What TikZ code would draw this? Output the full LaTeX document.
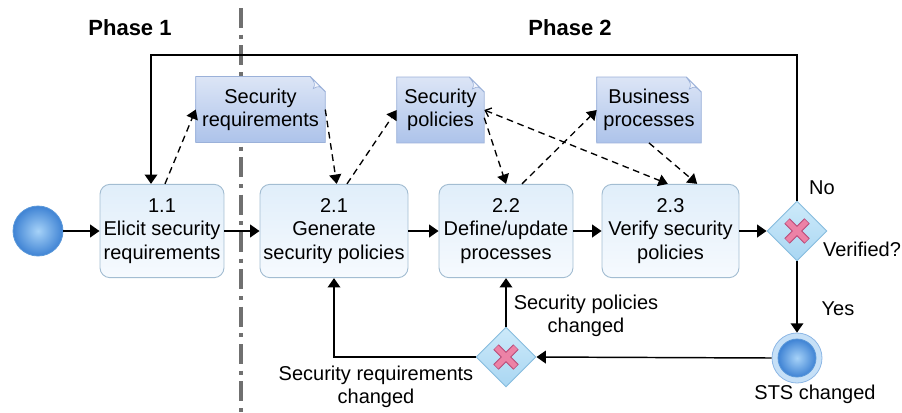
\documentclass[tikz,border=0pt]{standalone}
\usepackage{fontspec}
\setmainfont{Liberation Sans}
\usepackage{tikz}
\usetikzlibrary{arrows.meta,shapes.geometric,calc,backgrounds}

\definecolor{tasktop}{HTML}{E0EEFA}
\definecolor{taskbot}{HTML}{F6FAFE}
\definecolor{taskline}{HTML}{A3BDD2}
\definecolor{evin}{HTML}{A6D2F8}
\definecolor{evout}{HTML}{3F83D4}
\definecolor{evline}{HTML}{5B98D9}
\definecolor{ringfill}{HTML}{C6E0F7}
\definecolor{ringline}{HTML}{8DB7E5}
\definecolor{datatop}{HTML}{DCE5F6}
\definecolor{databot}{HTML}{ADC3EA}
\definecolor{dataline}{HTML}{9BB1D9}
\definecolor{datafold}{HTML}{F2F5FC}
\definecolor{gwtop}{HTML}{CDEAFA}
\definecolor{gwbot}{HTML}{A9D6F2}
\definecolor{gwline}{HTML}{86BCDD}
\definecolor{xpink}{HTML}{EC82A6}
\definecolor{xline}{HTML}{B84A78}
\definecolor{phasegray}{HTML}{707070}

\begin{document}
\begin{tikzpicture}[x=0.75pt,y=0.75pt,yscale=-1,xscale=1,
  every node/.style={font=\fontsize{15}{17.5}\selectfont,align=center},
  task/.style={draw=taskline,line width=0.7pt,rounded corners=7.5pt,top color=tasktop,bottom color=taskbot,minimum height=70pt,inner sep=0pt},
  dataobj/.style={minimum height=49pt,inner sep=0pt},
  gateway/.style={diamond,draw=gwline,line width=0.7pt,top color=gwtop,bottom color=gwbot,minimum width=45pt,minimum height=45pt,inner sep=0pt},
  event/.style={circle,draw=evline,line width=0.6pt,inner color=evin,outer color=evout,inner sep=0pt},
  flow/.style={line width=1.1pt,-{Triangle[length=7pt,width=9.5pt]}},
  assoc/.style={line width=1pt,dash pattern=on 5pt off 3.5pt,-{Triangle[length=7pt,width=9pt]}},
  phase/.style={font=\fontsize{16.5}{19}\selectfont\bfseries}
]
\useasboundingbox (0,0) rectangle (902,412);

% Events
\node [event,minimum size=37.5pt] (start) at (38,231) {};
\node [circle,draw=ringline,line width=0.6pt,fill=ringfill,minimum size=37.5pt,inner sep=0pt] (endev) at (797,358) {};
\node [event,minimum size=28.5pt] (endin) at (797,358) {};

% Tasks
\node [task,minimum width=93pt] (box11) at (162,231) {1.1\\Elicit security\\requirements};
\node [task,minimum width=111pt] (box21) at (334,231) {2.1\\Generate\\security policies};
\node [task,minimum width=100.5pt] (box22) at (506,231) {2.2\\Define/update\\processes};
\node [task,minimum width=102.75pt] (box23) at (670.5,231) {2.3\\Verify security\\policies};

% Data objects
\node [dataobj,minimum width=96.75pt] (secreq) at (260.5,109.5) {Security\\requirements};
\node [dataobj,minimum width=65.25pt] (secpol) at (440.5,110) {Security\\policies};
\node [dataobj,minimum width=78pt] (busproc) at (649,110) {Business\\processes};

% Gateways
\node [gateway] (gw1) at (797,231) {};
\node [gateway] (gw2) at (506,357) {};
\foreach \g in {gw1,gw2}{
  \draw [xline,line width=5.6pt] ($(\g)+(-10,-10)$) -- ($(\g)+(10,10)$) ($(\g)+(-10,10)$) -- ($(\g)+(10,-10)$);
  \draw [xpink,line width=4.2pt] ($(\g)+(-9.6,-9.6)$) -- ($(\g)+(9.6,9.6)$) ($(\g)+(-9.6,9.6)$) -- ($(\g)+(9.6,-9.6)$);
}

\begin{scope}[on background layer]
%Phase divider
\draw [phasegray,line width=2.3pt,dash pattern=on 15pt off 5pt on 3pt off 5pt] (241,8) -- (241,412);
%Data object shapes
\foreach \n in {secreq,secpol,busproc}{
  \draw [dataline,line width=0.6pt,top color=datatop,bottom color=databot] (\n.south west) -- (\n.north west) -- ($(\n.north east)+(-15,0)$) -- ($(\n.north east)+(0,15)$) -- (\n.south east) -- cycle;
  \draw [dataline,line width=0.5pt,fill=datafold] ($(\n.north east)+(-15,0)$) .. controls ($(\n.north east)+(-10,7)$) .. ($(\n.north east)+(-12,12)$) .. controls ($(\n.north east)+(-6,9)$) .. ($(\n.north east)+(0,15)$) -- cycle;
}
\end{scope}

%Sequence flows
\draw [flow] (start) -- (box11);
\draw [flow] (box11) -- (box21);
\draw [flow] (box21) -- (box22);
\draw [flow] (box22) -- (box23);
\draw [flow] (box23) -- (gw1);
\coordinate (looptop) at (151,55);
\draw [flow] (gw1.north) |- (looptop) -- (looptop |- box11.north);
\draw [flow] (gw1.south) -- (endev.north);
\draw [flow] (endev.west) -- (gw2.east);
\draw [flow] (gw2.west) -| (box21.south);
\draw [flow] (gw2.north) -- (box22.south);

%Associations
\draw [assoc] ([xshift=2.25pt]box11.north) -- (secreq.west);
\draw [assoc] (secreq.east) -- ([xshift=2pt]box21.north);
\draw [assoc] ([xshift=9.75pt]box21.north) -- (secpol.west);
\draw [assoc] (secpol.-10) -- (box22.north);
\draw [assoc] ([xshift=12pt]box22.north) -- (busproc.west);
\draw [assoc,{Straight Barb[length=4pt,width=7pt]}-{Triangle[length=7pt,width=9pt]}] (secpol.east) -- ([xshift=-2pt]box23.north);
\draw [assoc] (busproc.south) -- ([xshift=20pt]box23.north);

% Text Node
\node [phase] (ph1) at (130,28) {Phase 1};
% Text Node
\node [phase] (ph2) at (570,28) {Phase 2};
% Text Node
\node (lblno) at (822,188) {No};
% Text Node
\node (lblver) at (862,249) {Verified?};
% Text Node
\node (lblyes) at (838,309) {Yes};
% Text Node
\node (lblsts) at (815,394) {STS changed};
% Text Node
\node (lblreq) at (376,387) {Security requirements\\changed};
% Text Node
\node (lblpol) at (586,316) {Security policies\\changed};

\end{tikzpicture}
\end{document}
